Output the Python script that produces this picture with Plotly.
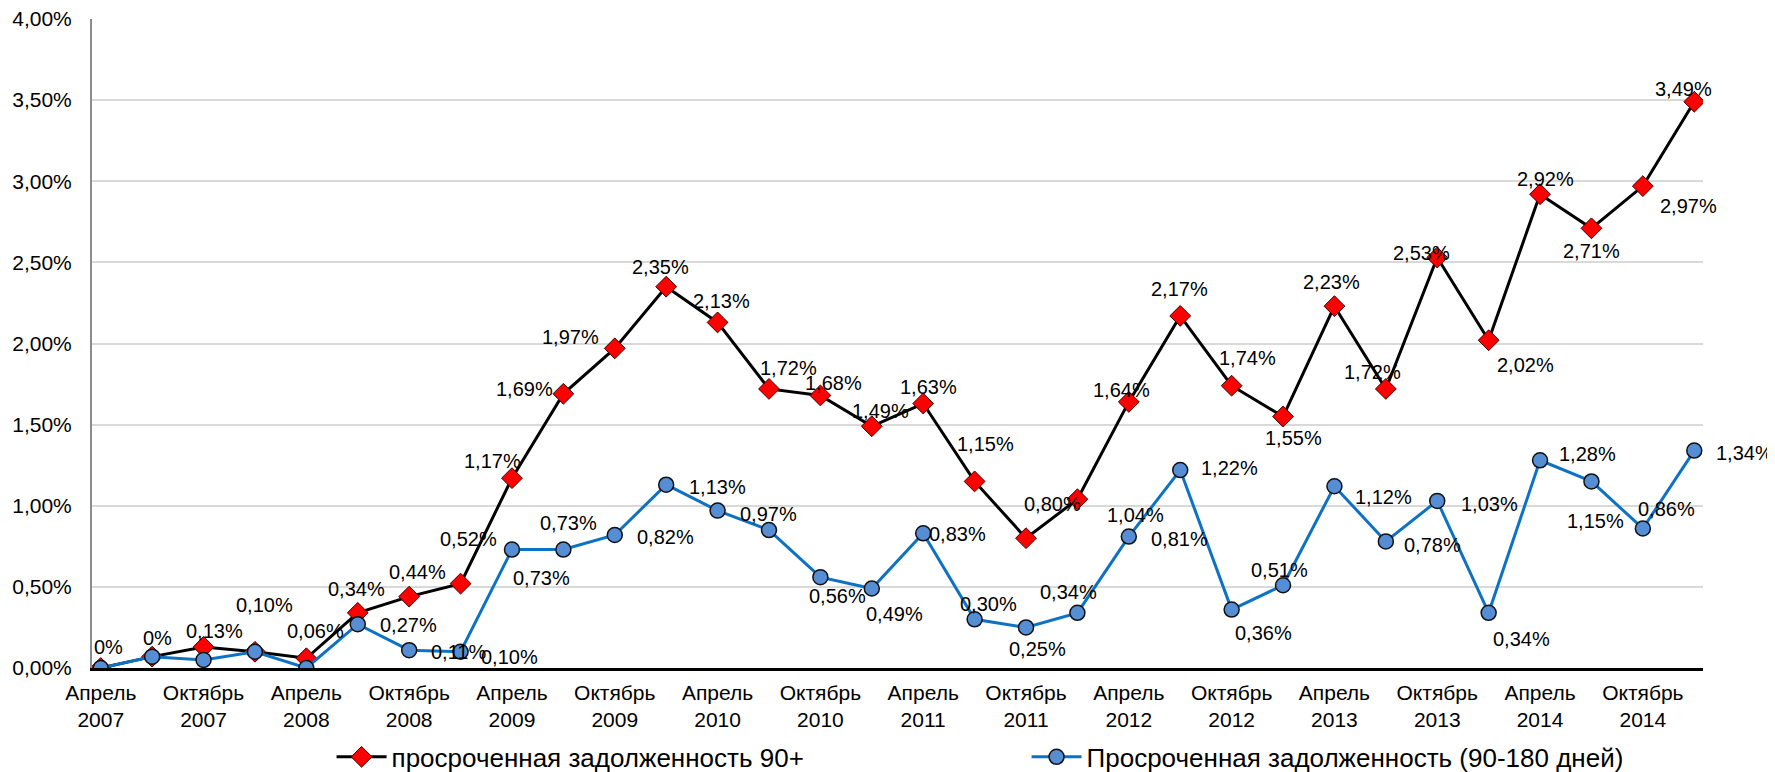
import plotly.graph_objects as go

# ---------------- data ----------------
periods = [
    "Апрель 2007", "Июль 2007", "Октябрь 2007", "Январь 2008",
    "Апрель 2008", "Июль 2008", "Октябрь 2008", "Январь 2009",
    "Апрель 2009", "Июль 2009", "Октябрь 2009", "Январь 2010",
    "Апрель 2010", "Июль 2010", "Октябрь 2010", "Январь 2011",
    "Апрель 2011", "Июль 2011", "Октябрь 2011", "Январь 2012",
    "Апрель 2012", "Июль 2012", "Октябрь 2012", "Январь 2013",
    "Апрель 2013", "Июль 2013", "Октябрь 2013", "Январь 2014",
    "Апрель 2014", "Июль 2014", "Октябрь 2014", "Январь 2015",
]
npl_90 = [0.00, 0.07, 0.13, 0.10, 0.06, 0.34, 0.44, 0.52, 1.17, 1.69,
          1.97, 2.35, 2.13, 1.72, 1.68, 1.49, 1.63, 1.15, 0.80, 1.04,
          1.64, 2.17, 1.74, 1.55, 2.23, 1.72, 2.53, 2.02, 2.92, 2.71,
          2.97, 3.49]
npl_90_180 = [0.00, 0.07, 0.05, 0.10, 0.00, 0.27, 0.11, 0.10, 0.73, 0.73,
              0.82, 1.13, 0.97, 0.85, 0.56, 0.49, 0.83, 0.30, 0.25, 0.34,
              0.81, 1.22, 0.36, 0.51, 1.12, 0.78, 1.03, 0.34, 1.28, 1.15,
              0.86, 1.34]
npl_90_label_override = {0: "0%", 1: "0%"}
npl_90_180_unlabeled = [0, 1, 2, 3, 4, 13]
y_ticks = [0.0, 0.5, 1.0, 1.5, 2.0, 2.5, 3.0, 3.5, 4.0]
name_90 = "просроченная задолженность 90+"
name_90_180 = "Просроченная задолженность (90-180 дней)"

# ---------------- style ----------------
FONT = "Liberation Sans, Arial, sans-serif"
# label offsets in px (dx right, dy down)
off_90 = [(8, -21), (5, -19), (11, -16), (10, -47), (9, -27), (-1, -24), (8, -25),
          (8, -45), (-19, -17), (-39, -5), (-44, -11), (-6, -20), (4, -21),
          (20, -21), (13, -12), (9, -15), (5, -17), (11, -37), (26, -34),
          (58, 16), (-7, -12), (-1, -27), (16, -28), (10, 21), (-3, -24),
          (-13, -17), (-16, -5), (37, 25), (5, -15), (0, 23), (46, 20), (-11, -13)]
off_90_180 = [None, None, None, None, None, (51, 1), (49, 2), (49, 5), (30, 28),
              (5, -27), (51, 2), (51, 2), (51, 3), None, (17, 19), (23, 25),
              (34, 1), (14, -15), (11, 22), (-9, -21), (51, 2), (49, -2),
              (32, 23), (-4, -15), (49, 11), (47, 4), (52, 3), (33, 26),
              (47, -6), (4, 40), (24, -19), (50, 2)]

# the page body has an 8px margin: the figure is sized so it ends at the window edge
PAGE_PAD = 8


def fmt(v):
    return f"{v:.2f}".replace(".", ",") + "%"


x = list(range(len(periods)))
tickvals = [i for i, p in enumerate(periods) if p.split()[0] in ("Апрель", "Октябрь")]
ticktext = [periods[i].replace(" ", "<br>") for i in tickvals]
y_ticktext = [fmt(v) for v in y_ticks]

fig = go.Figure()
fig.add_trace(go.Scatter(
    x=x, y=npl_90, mode="lines+markers", name=name_90,
    line=dict(color="black", width=3),
    marker=dict(symbol="diamond", size=16, color="#FF0000",
                line=dict(color="#3a0000", width=1)),
))
fig.add_trace(go.Scatter(
    x=x, y=npl_90_180, mode="lines+markers", name=name_90_180,
    line=dict(color="#0E72C4", width=3),
    marker=dict(symbol="circle", size=15, color="#558ED5",
                line=dict(color="#111111", width=1.5)),
))

annotations = []
for i, v in enumerate(npl_90):
    txt = npl_90_label_override.get(i, fmt(v))
    dx, dy = off_90[i]
    annotations.append(dict(x=i, y=v, text=txt, showarrow=False,
                            xanchor="center", yanchor="middle",
                            xshift=dx, yshift=-dy,
                            font=dict(family=FONT, size=20, color="black")))
for i, v in enumerate(npl_90_180):
    if i in npl_90_180_unlabeled or off_90_180[i] is None:
        continue
    dx, dy = off_90_180[i]
    annotations.append(dict(x=i, y=v, text=fmt(v), showarrow=False,
                            xanchor="center", yanchor="middle",
                            xshift=dx, yshift=-dy,
                            font=dict(family=FONT, size=20, color="black")))

fig.update_layout(
    width=1775 - PAGE_PAD, height=772 - PAGE_PAD,
    margin=dict(l=92 - PAGE_PAD, r=72, t=19 - PAGE_PAD, b=104, autoexpand=False),
    paper_bgcolor="white", plot_bgcolor="white",
    font=dict(family=FONT, size=20, color="black"),
    showlegend=True,
    legend=dict(orientation="h", x=0.1487, xanchor="left", y=-0.137,
                yanchor="middle", font=dict(family=FONT, size=26, color="black"),
                itemwidth=50, entrywidth=630, bgcolor="rgba(0,0,0,0)"),
    annotations=annotations,
)
fig.update_xaxes(
    range=[-0.17, 31.17], tickvals=tickvals, ticktext=ticktext,
    showgrid=False, zeroline=False, showline=True, linecolor="black",
    linewidth=2.5, ticks="", ticklabelstandoff=4, ticklabeloverflow="allow",
    tickfont=dict(family=FONT, size=21, color="black"),
)
fig.update_yaxes(
    range=[0, 4], tickvals=y_ticks, ticktext=y_ticktext,
    showgrid=True, gridcolor="#d9d9d9", gridwidth=2, zeroline=False,
    showline=True, linecolor="#8c8c8c", linewidth=2, ticks="",
    ticklabelstandoff=14, ticklabeloverflow="allow",
    tickfont=dict(family=FONT, size=21, color="black"),
)

fig.write_html("out.html")
